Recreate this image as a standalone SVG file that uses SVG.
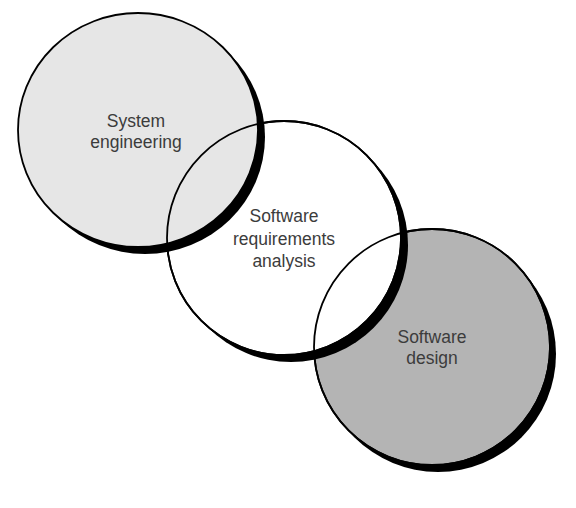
<svg xmlns="http://www.w3.org/2000/svg" width="576" height="508" viewBox="0 0 576 508">
  <style>
    .shadow { fill: #000000; }
    .outline { stroke: #000000; stroke-width: 1.8; }
    .label { font-family: "Liberation Sans", Arial, sans-serif; font-size: 17.5px; fill: #3c3c3c; text-anchor: middle; }
  </style>
  <rect x="0" y="0" width="576" height="508" fill="#ffffff"/>
  <g id="node-software-design">
    <circle class="shadow" cx="438" cy="354" r="118"/>
    <circle class="outline" cx="432" cy="347" r="118" fill="#b4b4b4"/>
    <text class="label" x="432" y="343">Software</text>
    <text class="label" x="432" y="364">design</text>
  </g>
  <g id="node-software-requirements-analysis">
    <circle class="shadow" cx="291" cy="245" r="117"/>
    <circle class="outline" cx="284" cy="238" r="117" fill="#ffffff"/>
    <text class="label" x="284" y="222">Software</text>
    <text class="label" x="284" y="245">requirements</text>
    <text class="label" x="284" y="267">analysis</text>
  </g>
  <g id="node-system-engineering">
    <ellipse class="shadow" cx="145" cy="137" rx="120" ry="117"/>
    <ellipse class="outline" cx="138" cy="130" rx="120" ry="117" fill="#e6e6e6"/>
    <text class="label" x="136" y="127">System</text>
    <text class="label" x="136" y="148">engineering</text>
  </g>
  <g id="overlap-outlines" fill="none">
    <circle class="outline" cx="284" cy="238" r="117"/>
    <circle class="outline" cx="432" cy="347" r="118"/>
  </g>
</svg>
